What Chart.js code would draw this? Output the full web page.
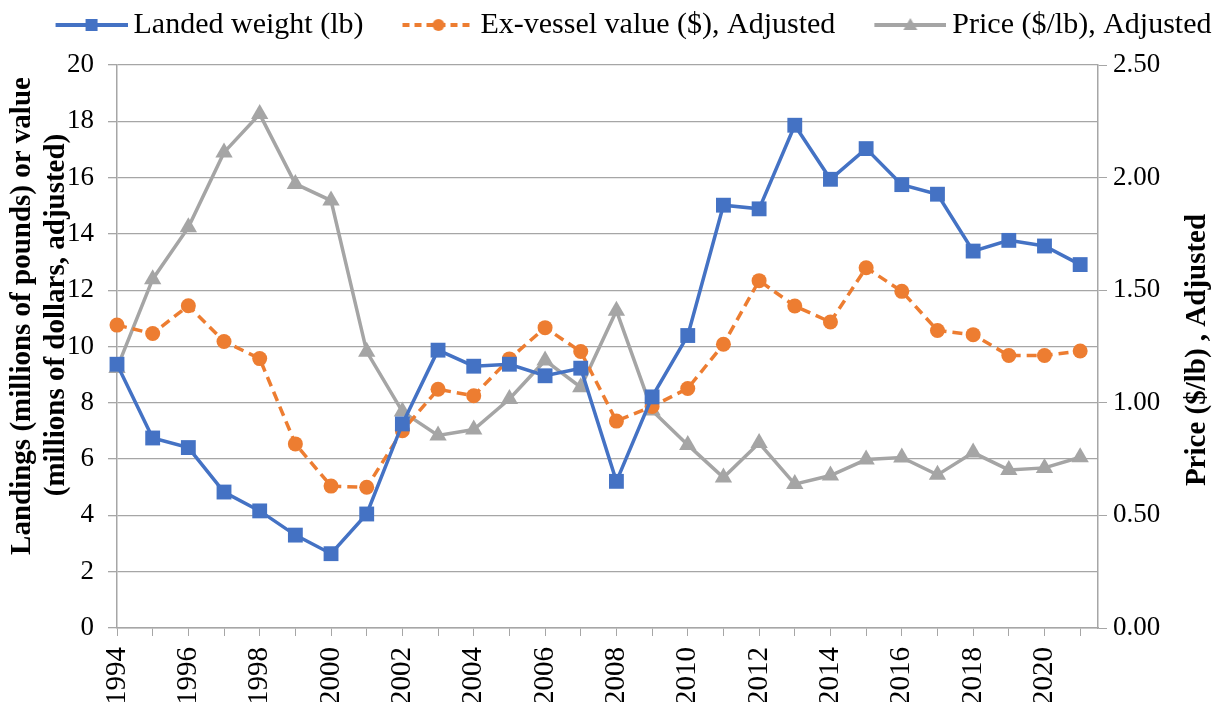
<!DOCTYPE html>
<html>
<head>
<meta charset="utf-8">
<script src="https://cdn.jsdelivr.net/npm/chart.js@4.4.0/dist/chart.umd.min.js"></script>
<style>
  html, body { margin: 0; padding: 0; background: #fff; }
  #wrap { width: 1214px; height: 702px; }
</style>
</head>
<body>
<div id="wrap"><canvas id="chart"></canvas></div>
<script>
const years = [1994, 1995, 1996, 1997, 1998, 1999, 2000, 2001, 2002, 2003, 2004, 2005, 2006, 2007,
  2008, 2009, 2010, 2011, 2012, 2013, 2014, 2015, 2016, 2017, 2018, 2019, 2020, 2021];

// millions of pounds
const landedWeight = [9.37, 6.75, 6.41, 4.83, 4.16, 3.30, 2.64, 4.05, 7.25, 9.87, 9.30, 9.37, 8.96, 9.23,
  5.21, 8.21, 10.39, 15.02, 14.89, 17.86, 15.94, 17.03, 15.75, 15.41, 13.39, 13.77, 13.57, 12.91];

// millions of dollars, adjusted
const exVesselValue = [10.76, 10.46, 11.45, 10.18, 9.57, 6.54, 5.04, 5.00, 7.01, 8.48, 8.25, 9.56, 10.67, 9.82,
  7.35, 7.87, 8.51, 10.08, 12.34, 11.44, 10.87, 12.80, 11.96, 10.57, 10.42, 9.68, 9.68, 9.84];

// $/lb, adjusted (right axis)
const pricePerLb = [1.154, 1.549, 1.779, 2.112, 2.282, 1.972, 1.898, 1.227, 0.961, 0.855, 0.881, 1.017, 1.188, 1.069,
  1.409, 0.966, 0.813, 0.668, 0.821, 0.639, 0.677, 0.748, 0.757, 0.680, 0.779, 0.702, 0.711, 0.758];

const seriesNames = ["Landed weight (lb)", "Ex-vessel value ($), Adjusted", "Price ($/lb), Adjusted"];
const leftTitle = ["Landings (millions of pounds) or value", "(millions of dollars, adjusted)"];
const rightTitle = "Price ($/lb) , Adjusted";

const SERIF = "'Liberation Serif', 'Times New Roman', serif";
const BLUE = "#4472C4";
const ORANGE = "#ED7D31";
const GRAY = "#A5A5A5";
const GRID = "#A6A6A6";

const toPoints = (vals) => vals.map((v, i) => ({ x: years[i], y: v }));

// legend icon: line with the marker in the middle, drawn at the right end of a wider canvas
function makeIcon(color, dash, marker) {
  const c = document.createElement("canvas");
  c.width = 110;
  c.height = 22;
  const g = c.getContext("2d");
  const x0 = 110 - 72, x1 = 110, cy = 11, cx = (x0 + x1) / 2;
  g.strokeStyle = color;
  g.lineWidth = 4;
  g.setLineDash(dash);
  g.beginPath();
  g.moveTo(x0, cy);
  g.lineTo(x1, cy);
  g.stroke();
  g.setLineDash([]);
  g.fillStyle = color;
  g.beginPath();
  if (marker === "rect") {
    g.rect(cx - 6, cy - 6, 12, 12);
  } else if (marker === "circle") {
    g.arc(cx, cy, 6, 0, Math.PI * 2);
  } else {
    g.moveTo(cx, cy - 7);
    g.lineTo(cx + 7, cy + 5);
    g.lineTo(cx - 7, cy + 5);
    g.closePath();
  }
  g.fill();
  return c;
}

const icons = [
  makeIcon(BLUE, [], "rect"),
  makeIcon(ORANGE, [7, 5], "circle"),
  makeIcon(GRAY, [], "triangle")
];

// keep the plot top where the reference has it, nudge legend a bit right
const legendBox = {
  id: "legendBox",
  beforeLayout(chart) {
    const lg = chart.legend;
    if (lg && !lg._fitWrapped) {
      const fit = lg.fit;
      lg.fit = function () {
        fit.call(this);
        this.height = 65;
      };
      lg._fitWrapped = true;
    }
  },
  afterLayout(chart) {
    const lg = chart.legend;
    if (lg) {
      lg.left += 12;
      lg.right += 12;
    }
  }
};

const axisTitles = {
  id: "axisTitles",
  afterDraw(chart) {
    const ctx = chart.ctx;
    const put = (text, x, y) => {
      ctx.save();
      ctx.translate(x, y);
      ctx.rotate(-Math.PI / 2);
      ctx.fillText(text, 0, 0);
      ctx.restore();
    };
    ctx.save();
    ctx.font = "bold 29px " + SERIF;
    ctx.fillStyle = "#000";
    ctx.textAlign = "center";
    ctx.textBaseline = "middle";
    put(leftTitle[0], 23, 316);
    put(leftTitle[1], 57, 315);
    put(rightTitle, 1198, 350);
    ctx.restore();
  }
};

new Chart(document.getElementById("chart"), {
  type: "line",
  data: {
    datasets: [
      {
        label: seriesNames[0],
        data: toPoints(landedWeight),
        yAxisID: "y",
        borderColor: BLUE,
        backgroundColor: BLUE,
        borderWidth: 3.5,
        pointStyle: "rect",
        pointRadius: 10.5,
        pointBorderWidth: 0,
        tension: 0,
        clip: false
      },
      {
        label: seriesNames[1],
        data: toPoints(exVesselValue),
        yAxisID: "y",
        borderColor: ORANGE,
        backgroundColor: ORANGE,
        borderWidth: 3.5,
        borderDash: [10, 6],
        pointStyle: "circle",
        pointRadius: 7.5,
        pointBorderWidth: 0,
        tension: 0,
        clip: false
      },
      {
        label: seriesNames[2],
        data: toPoints(pricePerLb),
        yAxisID: "y1",
        borderColor: GRAY,
        backgroundColor: GRAY,
        borderWidth: 3.5,
        pointStyle: "triangle",
        pointRadius: 10,
        pointBorderWidth: 0,
        tension: 0,
        clip: false
      }
    ]
  },
  options: {
    responsive: true,
    maintainAspectRatio: false,
    animation: false,
    devicePixelRatio: 1,
    layout: { padding: 0 },
    plugins: {
      legend: {
        position: "top",
        labels: {
          usePointStyle: true,
          pointStyleWidth: 92,
          padding: 10,
          color: "#000",
          font: { family: SERIF, size: 30 },
          generateLabels: (chart) => chart.data.datasets.map((ds, i) => ({
            text: ds.label,
            pointStyle: icons[i],
            datasetIndex: i,
            hidden: false,
            lineWidth: 0,
            fillStyle: ds.borderColor,
            strokeStyle: ds.borderColor
          }))
        }
      },
      tooltip: { enabled: false }
    },
    scales: {
      x: {
        type: "linear",
        min: 1994,
        max: 2021.5,
        afterBuildTicks: (s) => { s.ticks = years.map((v) => ({ value: v })); },
        afterFit: (s) => { s.height = 74; },
        ticks: {
          autoSkip: false,
          maxRotation: 90,
          minRotation: 90,
          padding: 11,
          color: "#000",
          font: { family: SERIF, size: 29 },
          callback: (v) => (v % 2 === 0 ? String(v) : "")
        },
        grid: { display: true, drawOnChartArea: false, drawTicks: true, tickLength: 8, color: GRID },
        border: { display: true, color: GRID, width: 1.5 }
      },
      y: {
        position: "left",
        min: 0,
        max: 20,
        afterFit: (s) => { s.width = 117; },
        ticks: {
          stepSize: 2,
          padding: 14,
          color: "#000",
          font: { family: SERIF, size: 27 }
        },
        grid: { color: GRID, lineWidth: 1.3, tickLength: 9 },
        border: { display: true, color: GRID, width: 1.5 }
      },
      y1: {
        position: "right",
        min: 0,
        max: 2.5,
        afterFit: (s) => { s.width = 116; },
        ticks: {
          stepSize: 0.5,
          padding: 6,
          color: "#000",
          font: { family: SERIF, size: 27 },
          callback: (v) => v.toFixed(2)
        },
        grid: { drawOnChartArea: false, color: GRID, tickLength: 9 },
        border: { display: true, color: GRID, width: 1.5 }
      }
    }
  },
  plugins: [legendBox, axisTitles]
});
</script>
</body>
</html>
